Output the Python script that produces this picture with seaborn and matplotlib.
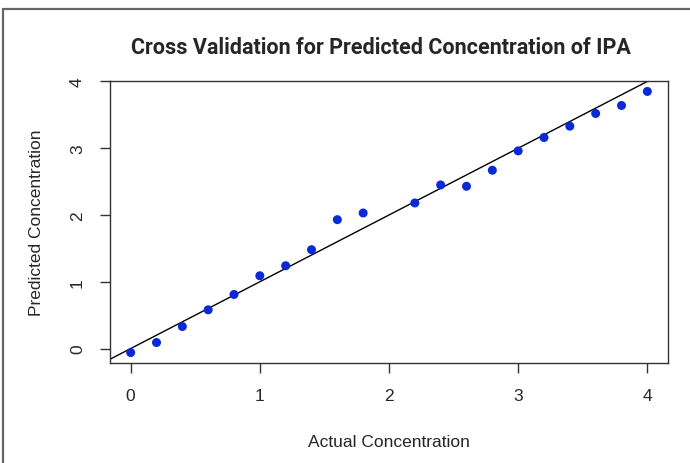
import matplotlib
matplotlib.use("Agg")
import matplotlib.pyplot as plt
import seaborn as sns
import numpy as np
import pandas as pd
from matplotlib.lines import Line2D

# cross validation results
actual = [0.0, 0.2, 0.4, 0.6, 0.8, 1.0, 1.2, 1.4, 1.6, 1.8,
          2.2, 2.4, 2.6, 2.8, 3.0, 3.2, 3.4, 3.6, 3.8, 4.0]
predicted = [-0.06, 0.09, 0.33, 0.58, 0.81, 1.09, 1.24, 1.48, 1.93, 2.03,
             2.18, 2.45, 2.43, 2.67, 2.96, 3.16, 3.33, 3.52, 3.64, 3.85]
ticks = [0, 1, 2, 3, 4]

df = pd.DataFrame({"actual": actual, "predicted": predicted})

sns.set_style("white")
plt.rcParams["font.family"] = ["Liberation Sans", "DejaVu Sans"]

fig = plt.figure(figsize=(6.9, 4.64), dpi=100)
ax = fig.add_axes([110 / 690, 1 - 364 / 464, 558 / 690, 282 / 464])

sns.scatterplot(data=df, x="actual", y="predicted", ax=ax, color="#0a2ad8",
                s=42, edgecolor="none", zorder=3)
ax.axline((0, 0), slope=1, color="black", lw=1, zorder=2)

# R style 4% padding
def pad(v):
    lo, hi = min(v), max(v)
    d = (hi - lo) * 0.04
    return lo - d, hi + d

ax.set_xlim(pad(actual))
ax.set_ylim(pad(predicted))
ax.set_xticks(ticks)
ax.set_yticks(ticks)
ax.set_xticklabels([str(t) for t in ticks], fontsize=12.5)
ax.set_yticklabels([str(t) for t in ticks], fontsize=12.5, rotation=90, va="center")
ax.tick_params(axis="both", direction="out", length=7, width=1, color="#333333",
               pad=11, bottom=True, left=True)

for sp in ax.spines.values():
    sp.set_color("#333333")
    sp.set_linewidth(1)

ax.set_xlabel("Actual Concentration", fontsize=12.5, labelpad=22)
ax.set_ylabel("Predicted Concentration", fontsize=12.5, labelpad=19)
fig.text(381 / 690, 1 - 48 / 464, "Cross Validation for Predicted Concentration of IPA",
         ha="center", va="center", fontsize=15.5, fontweight="bold", family="Roboto")

# gray frame of the screenshot (left and top)
fig.add_artist(Line2D([3 / 690, 3 / 690], [0, 1 - 10 / 464], transform=fig.transFigure,
                      color="#666666", lw=1.6))
fig.add_artist(Line2D([3 / 690, 1], [1 - 10 / 464, 1 - 10 / 464], transform=fig.transFigure,
                      color="#666666", lw=1.6))

fig.savefig("out.png", dpi=100)
